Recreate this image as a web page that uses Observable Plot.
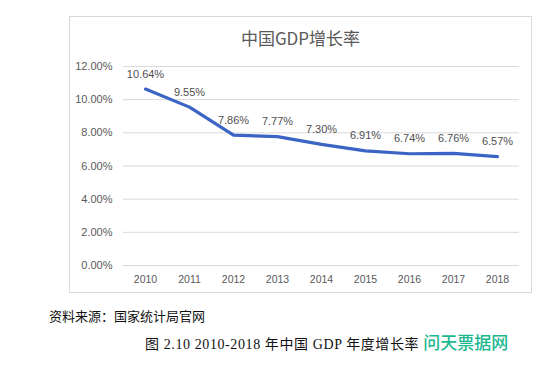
<!DOCTYPE html>
<html>
<head>
<meta charset="utf-8">
<script src="https://cdn.jsdelivr.net/npm/d3@7"></script>
<script src="https://cdn.jsdelivr.net/npm/@observablehq/plot@0.6"></script>
<style>
  html, body { margin: 0; padding: 0; background: #fff; }
  #page { position: relative; width: 559px; height: 367px; overflow: hidden; }
  #box { position: absolute; left: 69px; top: 16px; width: 463px; height: 277px; border: 1px solid #d9d9d9; box-sizing: border-box; }
  #title { position: absolute; left: 69px; width: 463px; top: 27px; text-align: center; font-family: "Noto Sans CJK SC", "Liberation Sans", sans-serif; font-size: 17px; color: #595959; line-height: 22px; }
  #chart { position: absolute; left: 0; top: 0; }
  #source { position: absolute; left: 49px; top: 308px; font-family: "Liberation Serif", "Noto Sans CJK SC", serif; font-size: 13px; color: #111; line-height: 18px; }
  #caption { position: absolute; left: 145px; top: 332px; font-family: "Liberation Serif", "Noto Sans CJK SC", serif; font-size: 14px; color: #111; line-height: 20px; white-space: nowrap; letter-spacing: 0.6px; }
  #wm { color: #1cb88f; font-family: "Noto Sans CJK SC", sans-serif; font-size: 17px; font-weight: 500; margin-left: 4px; letter-spacing: 0; }
</style>
</head>
<body>
<div id="page">
  <div id="box"></div>
  <div id="title">中国GDP增长率</div>
  <div id="chart"></div>
  <div id="source">资料来源：国家统计局官网</div>
  <div id="caption">图 2.10 2010-2018 年中国 GDP 年度增长率<span id="wm">问天票据网</span></div>
</div>
<script>
const years = ["2010", "2011", "2012", "2013", "2014", "2015", "2016", "2017", "2018"];
const growth = [10.64, 9.55, 7.86, 7.77, 7.30, 6.91, 6.74, 6.76, 6.57];
const yTicks = [0, 2, 4, 6, 8, 10, 12];

const data = years.map((y, i) => ({year: y, value: growth[i]}));
const pct = d => d.toFixed(2) + "%";

const chart = Plot.plot({
  width: 559,
  height: 300,
  marginLeft: 123,
  marginRight: 40,
  marginTop: 66,
  marginBottom: 35,
  style: {fontFamily: "'Liberation Sans', Arial, sans-serif", fontSize: "11px", color: "#595959", background: "transparent", overflow: "visible"},
  x: {type: "point", domain: years, padding: 0.5, label: null},
  y: {domain: [0, 12], label: null},
  marks: [
    Plot.ruleY(yTicks, {stroke: "#d9d9d9", strokeWidth: 1}),
    Plot.axisY({ticks: yTicks, tickFormat: pct, tickSize: 0, tickPadding: 11, label: null, fill: "#595959", fontSize: 11}),
    Plot.axisX({tickSize: 0, tickPadding: 10, label: null, fill: "#595959", fontSize: 10.5}),
    Plot.line(data, {x: "year", y: "value", stroke: "#3c64c4", strokeWidth: 3.2, strokeLinejoin: "round", strokeLinecap: "round"}),
    Plot.text(data, {x: "year", y: "value", text: d => pct(d.value), dy: -15, fill: "#505050", fontSize: 11})
  ]
});
document.getElementById("chart").appendChild(chart);
</script>
</body>
</html>
